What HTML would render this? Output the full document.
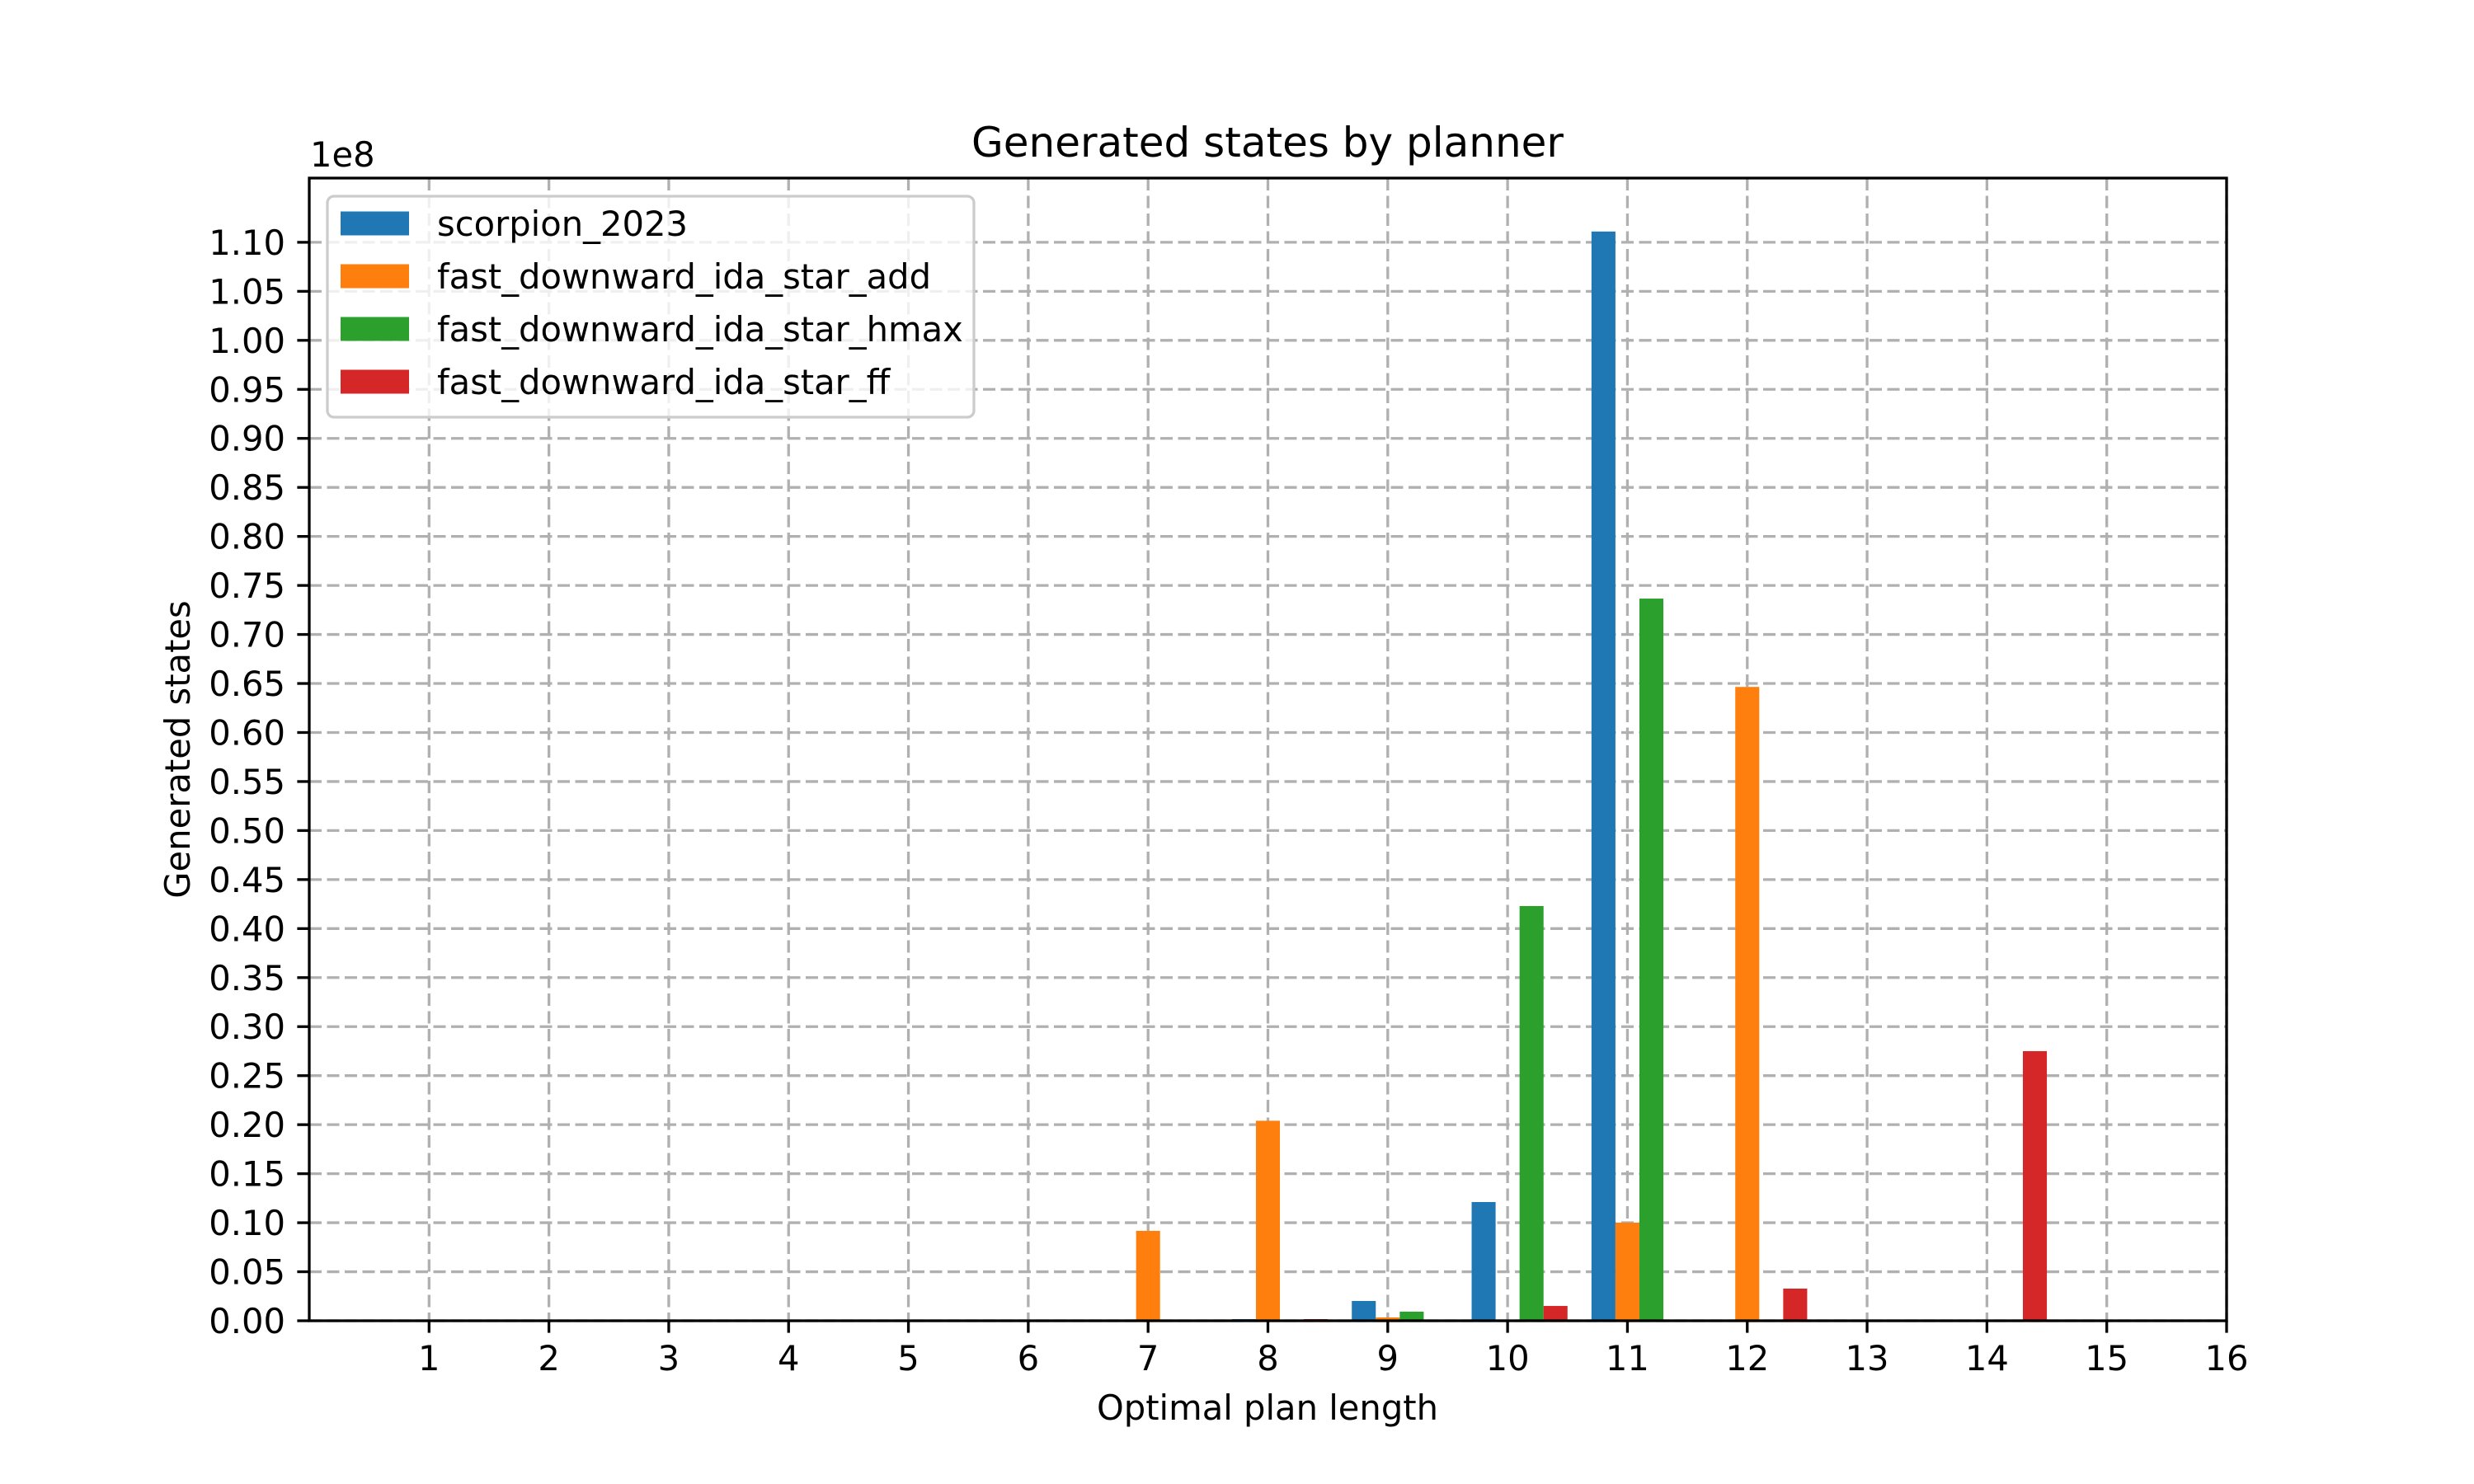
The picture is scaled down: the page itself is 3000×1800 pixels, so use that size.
<!DOCTYPE html>
<html><head><meta charset="utf-8"><style>
html,body{margin:0;padding:0;background:#fff;}
svg{display:block;font-family:"DejaVu Sans","Liberation Sans",sans-serif;}
</style></head><body>
<svg id="chart" width="3000" height="1800" viewBox="0 0 3000 1800" xmlns="http://www.w3.org/2000/svg">
<rect width="3000" height="1800" fill="#fff"/>
<g id="grid"></g>
<g id="bars"></g>
<g id="axes"></g>
<text x="1537" y="190" font-size="50" text-anchor="middle">Generated states by planner</text>
<text x="376" y="202" font-size="41.67">1e8</text>
<text x="1537" y="1722" font-size="41.67" text-anchor="middle">Optimal plan length</text>
<text transform="translate(230,909) rotate(-90)" font-size="41.67" text-anchor="middle">Generated states</text>
<g id="legend"></g>
</svg>
<script>
const categories = [1,2,3,4,5,6,7,8,9,10,11,12,13,14,15,16];
const seriesNames = ["scorpion_2023","fast_downward_ida_star_add","fast_downward_ida_star_hmax","fast_downward_ida_star_ff"];
const seriesColors = ["#1f77b4","#ff7f0e","#2ca02c","#d62728"];
const scorpion = [0,0,0,0,0,0,0.0008,0.0017,0.0202,0.1211,1.111,0,0,0,0,0];
const idaAdd  = [0,0,0,0,0,0,0.0917,0.204,0.0034,0,0.1001,0.6465,0,0,0,0];
const idaHmax = [0,0,0,0,0,0,0,0,0.0093,0.423,0.7366,0,0,0,0,0];
const idaFf   = [0,0,0,0,0,0,0,0.0017,0,0.0151,0,0.0328,0,0.275,0,0];
const yTicks = [0,0.05,0.10,0.15,0.20,0.25,0.30,0.35,0.40,0.45,0.50,0.55,0.60,0.65,0.70,0.75,0.80,0.85,0.90,0.95,1.00,1.05,1.10];
const xTickLabels = ["1","2","3","4","5","6","7","8","9","10","11","12","13","14","15","16"];

const NS="http://www.w3.org/2000/svg";
const L=375,R=2700,T=216,B=1602;
const xMin=0,xMax=16,yMin=0,yMax=1.1655;
const xs=v=>L+(v-xMin)/(xMax-xMin)*(R-L);
const ys=v=>B-(v-yMin)/(yMax-yMin)*(B-T);
function mk(tag,attrs,parent){const e=document.createElementNS(NS,tag);for(const k in attrs)e.setAttribute(k,attrs[k]);parent.appendChild(e);return e;}
const grid=document.getElementById('grid'),bars=document.getElementById('bars'),axes=document.getElementById('axes'),legend=document.getElementById('legend');

categories.forEach((c,i)=>{
  const x=xs(c);
  const g=mk('line',{x1:x,x2:x,y1:T,y2:B,stroke:'#b0b0b0','stroke-width':3.3,'stroke-dasharray':'15 6.5'},grid);
  
  
  const t=mk('line',{x1:x,x2:x,y1:B,y2:B+14.6,stroke:'#000','stroke-width':3.3},axes);
  
  
  const lb=mk('text',{x:x,y:B+60,'font-size':41.67,'text-anchor':'middle'},axes);
  lb.textContent=xTickLabels[i];
  
  
});
yTicks.forEach(v=>{
  const y=ys(v);
  const g=mk('line',{x1:L,x2:R,y1:y,y2:y,stroke:'#b0b0b0','stroke-width':3.3,'stroke-dasharray':'15 6.5'},grid);
  
  
  const t=mk('line',{x1:L-14.6,x2:L,y1:y,y2:y,stroke:'#000','stroke-width':3.3},axes);
  
  
  const lb=mk('text',{x:L-29,y:y+15,'font-size':41.67,'text-anchor':'end'},axes);
  lb.textContent=v.toFixed(2);
  
  
});

const series=[scorpion,idaAdd,idaHmax,idaFf];
const bw=0.2;
series.forEach((vals,si)=>{
  vals.forEach((v,ci)=>{
    if(!v) return;
    const cx=categories[ci]+(si-1)*bw;
    const x0=xs(cx-bw/2),x1=xs(cx+bw/2);
    const r=mk('rect',{x:x0,y:ys(v),width:x1-x0,height:ys(0)-ys(v),fill:seriesColors[si]},bars);
    
    
  });
});

const frame=mk('rect',{x:L,y:T,width:R-L,height:B-T,fill:'none',stroke:'#000','stroke-width':3.3},axes);



const box=mk('rect',{x:397,y:238,width:784,height:268,rx:8,fill:'#fff','fill-opacity':0.8,stroke:'#cccccc','stroke-width':3.3},legend);


seriesNames.forEach((n,i)=>{
  const cy=271+i*64;
  const p=mk('rect',{x:413,y:cy-14.5,width:83,height:29,fill:seriesColors[i]},legend);
  
  
  const t=mk('text',{x:530,y:cy+15,'font-size':41.67},legend);
  t.textContent=n;
  
  
});
</script>
</body></html>
